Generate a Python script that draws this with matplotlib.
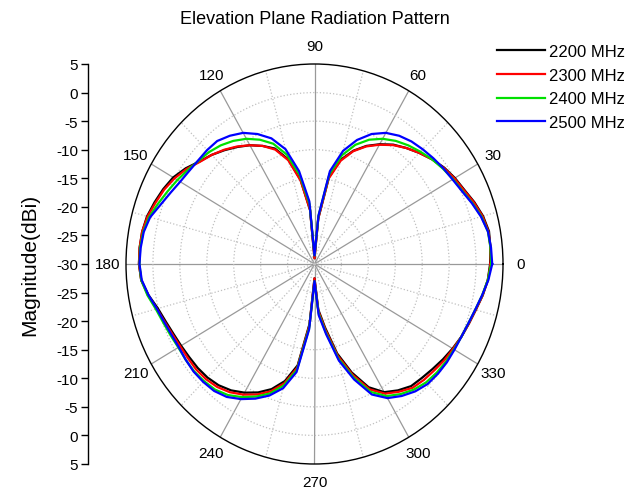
import numpy as np
import matplotlib
matplotlib.use("Agg")
import matplotlib.pyplot as plt
from matplotlib.ticker import FixedLocator

plt.rcParams['font.family'] = ['Liberation Sans', 'DejaVu Sans']

# angle in degrees, gain in dBi
angles = list(range(0, 361, 5))

gain_2200 = [2.6, 2.8, 2.9, 2.4, 1.6, 0.7, 0.1, -0.6, -1.5, -2.5,
             -3.5, -4.5, -5.8, -7.2, -8.9, -11.1, -14.6, -22.0, -29.0, -20.5,
             -15.0, -11.0, -8.5, -7.2, -6.0, -5.0, -4.0, -3.0, -2.1, -0.8,
             0.3, 1.0, 1.6, 2.2, 2.5, 2.6, 2.6, 2.3, 1.3, 0.1,
             -0.6, -1.1, -1.4, -1.6, -1.7, -1.9, -2.3, -3.0, -4.0, -5.2,
             -6.7, -8.8, -12.0, -19.5, -27.5, -22.0, -18.7, -13.8, -9.8, -6.2,
             -4.1, -3.0, -2.1, -1.8, -1.4, -0.9, -0.4, 0.1, 0.5, 1.0,
             1.7, 2.3, 2.6]

gain_2300 = [2.7, 2.8, 2.8, 2.3, 1.5, 0.6, 0.0, -0.7, -1.5, -2.5,
             -3.5, -4.6, -5.9, -7.3, -9.0, -11.3, -14.8, -22.0, -29.0, -20.5,
             -15.2, -11.2, -8.7, -7.2, -6.0, -4.9, -3.9, -3.0, -2.2, -1.0,
             0.0, 0.8, 1.4, 2.1, 2.5, 2.6, 2.6, 2.3, 1.4, 0.3,
             -0.4, -0.9, -1.2, -1.3, -1.3, -1.5, -1.9, -2.6, -3.6, -4.8,
             -6.3, -8.4, -11.6, -19.2, -27.5, -21.7, -18.3, -13.4, -9.4, -5.8,
             -3.8, -2.7, -1.7, -1.3, -1.0, -0.6, -0.3, 0.1, 0.5, 1.0,
             1.7, 2.3, 2.7]

gain_2400 = [2.8, 2.8, 2.7, 2.1, 1.2, 0.3, -0.3, -0.9, -1.5, -2.2,
             -2.9, -3.7, -4.7, -6.0, -7.8, -10.3, -14.0, -21.5, -28.5, -19.5,
             -14.2, -10.2, -7.6, -6.0, -4.7, -3.7, -2.9, -2.3, -1.9, -1.3,
             -0.6, 0.1, 0.9, 1.8, 2.3, 2.5, 2.5, 2.3, 1.5, 0.5,
             -0.1, -0.5, -0.8, -0.8, -0.8, -1.0, -1.3, -2.0, -3.1, -4.4,
             -5.9, -8.0, -11.2, -18.8, -27.0, -21.3, -17.8, -12.9, -8.9, -5.3,
             -3.3, -2.2, -1.3, -0.7, -0.4, -0.2, -0.1, 0.1, 0.4, 0.9,
             1.6, 2.3, 2.8]

gain_2500 = [3.0, 2.9, 2.7, 2.0, 1.1, 0.2, -0.4, -0.8, -1.2, -1.6,
             -2.0, -2.6, -3.5, -4.9, -6.9, -9.5, -13.5, -21.5, -28.5, -19.0,
             -13.5, -9.2, -6.6, -4.9, -3.5, -2.6, -1.9, -1.8, -1.8, -1.6,
             -1.2, -0.5, 0.4, 1.6, 2.2, 2.4, 2.5, 2.2, 1.3, 0.3,
             -0.3, -0.7, -0.9, -0.8, -0.7, -0.8, -1.0, -1.6, -2.7, -4.0,
             -5.5, -7.5, -10.8, -18.5, -27.0, -21.0, -17.5, -12.5, -8.5, -4.8,
             -2.9, -1.8, -0.9, -0.3, -0.1, 0.0, 0.0, 0.1, 0.4, 0.9,
             1.6, 2.4, 3.0]

series = [gain_2200, gain_2300, gain_2400, gain_2500]
names = ["2200 MHz", "2300 MHz", "2400 MHz", "2500 MHz"]
colors = ["black", "#ff0000", "#00e000", "#0000ff"]

theta_labels = list(range(0, 360, 30))
ring_values = [-25, -20, -15, -10, -5, 0]
side_ticks = list(range(-35, 36, 5))

fig = plt.figure(figsize=(6.29, 4.89), dpi=100)

ax = fig.add_axes([126/629, 24/489, 377/629, 400/489], projection='polar')
ax.set_aspect('auto')

for vals, col, lab in zip(series, colors, names):
    ax.plot(np.radians(angles), vals, color=col, lw=1.6, label=lab)

ax.set_ylim(-30, 5)
ax.set_yticks(ring_values)
ax.set_yticklabels([])
ax.set_xticks(np.radians(theta_labels))
ax.set_xticklabels([str(a) for a in theta_labels], fontsize=11)
ax.xaxis.set_minor_locator(FixedLocator(np.radians(list(range(15, 360, 30)))))
ax.grid(which='major', axis='x', color='#999999', lw=0.9, ls='-')
ax.grid(which='minor', axis='x', color='#c0c0c0', lw=0.9, ls=':')
ax.grid(which='major', axis='y', color='#c0c0c0', lw=0.9, ls=':')
ax.spines['polar'].set_color('black')
ax.spines['polar'].set_linewidth(1.0)
ax.tick_params(axis='x', which='major', direction='in', length=5, width=1, pad=6)
ax.tick_params(axis='x', which='minor', direction='in', length=3, width=0.8)

# magnitude scale on the left
axl = fig.add_axes([88/629, 24/489, 0.001, 400/489])
axl.set_ylim(-35, 35)
axl.set_yticks(side_ticks)
axl.set_yticklabels([str(abs(t) - 30) for t in side_ticks], fontsize=11)
axl.set_xticks([])
for s in ['top', 'right', 'bottom']:
    axl.spines[s].set_visible(False)
axl.spines['left'].set_linewidth(1.0)
axl.tick_params(axis='y', length=5, width=1, pad=2)
axl.patch.set_visible(False)

fig.text(30/629, 1 - 265/489, 'Magnitude(dBi)', rotation=90,
         ha='center', va='center', fontsize=15)
fig.text(315/629, 1 - 20/489, 'Elevation Plane Radiation Pattern',
         ha='center', va='center', fontsize=13)

fig.legend(loc='upper left', bbox_to_anchor=(497/629, 1 - 45/489),
           frameon=False, fontsize=12, handlelength=2.9, handletextpad=0.2,
           labelspacing=0.52, borderpad=0, borderaxespad=0)

fig.savefig('out.png', dpi=100, facecolor='white')
